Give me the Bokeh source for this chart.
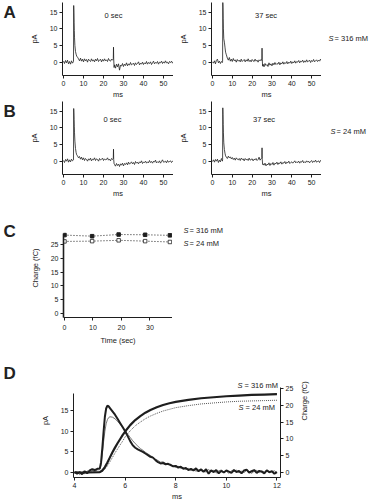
import math
from bokeh.plotting import figure
from bokeh.layouts import column, row
from bokeh.models import Range1d, LinearAxis, Label, FixedTicker
from bokeh.embed import file_html
from bokeh.resources import INLINE

FONT = "Liberation Sans"
INK = "#1e1e1e"
TXT = "#222222"

# ---------------- data: panels A/B (current traces, pA vs ms) ----------------
t_ms = [0, 0.5, 1, 1.5, 2, 2.5, 3, 3.5, 4, 4.5,
        4.9, 5.0, 5.1, 5.2, 5.3, 5.4, 5.5, 5.7, 6.0, 6.3,
        6.6, 7.0, 7.5, 8.0, 8.5, 9.0, 9.5, 10.0, 10.5, 11.0,
        11.5, 12, 12.5, 13, 13.5, 14, 14.5, 15, 15.5, 16,
        16.5, 17, 17.5, 18, 18.5, 19, 19.5, 20, 20.5, 21,
        21.5, 22, 22.5, 23, 23.5, 24, 24.5, 24.9, 25.0, 25.1,
        25.3, 25.5, 26, 26.5, 27, 27.5, 28, 28.5, 29, 29.5,
        30, 30.5, 31, 31.5, 32, 32.5, 33, 33.5, 34, 34.5,
        35, 35.5, 36, 36.5, 37, 37.5, 38, 38.5, 39, 39.5,
        40, 40.5, 41, 41.5, 42, 42.5, 43, 43.5, 44, 44.5,
        45, 45.5, 46, 46.5, 47, 47.5, 48, 48.5, 49, 49.5,
        50, 50.5, 51, 51.5, 52, 52.5, 53, 53.5, 54, 54.5,
        55]

# S = 316 mM, 0 sec
a_0sec = [0.3, -0.4, 0.5, -0.2, 0.6, -0.5, 0.2, -0.6, 0.4, -0.3,
          0.1, 0.2, 17.0, 15.0, 12.0, 9.5, 7.5, 5.0, 3.2, 2.4,
          1.8, 1.5, 1.0, 0.4, 1.2, 0.3, 0.9, 0.1, 1.0, 0.4,
          0.8, 0.0, 0.9, 0.5, 0.2, 1.0, 0.3, 0.7, 0.1, 0.9,
          0.4, 1.1, 0.2, 0.6, 0.9, 0.1, 0.8, 0.3, 1.0, 0.4,
          0.7, 0.2, 1.1, 0.5, 0.3, 0.9, 0.6, 1.0, 4.5, 1.0,
          -1.6, -0.8, -1.8, -0.6, -1.4, -0.5, -2.4, -0.9, -1.2, -0.4,
          -1.3, -0.6, -1.0, -0.2, -1.1, -0.5, -0.9, -0.1, -0.8, -0.6,
          -0.3, -1.0, -0.2, -0.7, -0.4, 0.1, -0.8, -0.3, -0.6, 0.0,
          -0.7, -0.2, -0.5, 0.2, -0.6, -0.1, -0.4, 0.1, -0.7, -0.2,
          0.3, -0.5, -0.1, -0.3, 0.2, -0.6, 0.0, -0.2, 0.3, -0.4,
          0.1, -0.3, 0.4, -0.2, 0.0, -0.5, 0.2, -0.1, 0.3, -0.3,
          0.1]

# S = 316 mM, 37 sec
a_37sec = [0.1, -0.3, 0.4, -0.5, 0.6, 0.9, -0.2, 0.3, -0.4, 0.2,
           0.0, -0.1, 0.3, 18.0, 16.5, 13.0, 10.0, 7.0, 6.0, 4.5,
           3.0, 2.2, 1.2, 0.6, 1.4, 0.3, 0.9, 0.2, 1.1, 0.4,
           0.7, 0.0, 0.8, 0.3, 0.6, 0.1, 0.9, 0.2, 0.5, 0.8,
           0.1, 0.7, 0.3, 1.0, 0.2, 0.6, 0.1, 0.8, 0.4, 0.2,
           0.9, 0.3, 0.6, 0.0, 0.7, 0.4, 0.8, 0.5, 4.2, 0.8,
           -1.2, -0.6, -1.4, -0.4, -1.0, -0.7, -1.3, -0.2, -0.9, -0.5,
           -1.1, -0.3, -0.8, -0.1, -0.7, -0.4, -0.6, 0.0, -0.8, -0.2,
           -0.5, 0.1, -0.6, -0.1, -0.4, 0.2, -0.5, 0.0, -0.3, 0.3,
           -0.4, 0.1, -0.2, 0.4, -0.3, 0.2, 0.0, 0.5, -0.2, 0.3,
           0.1, 0.6, -0.1, 0.4, 0.0, 0.7, 0.1, 0.3, 0.6, -0.1,
           0.5, 0.2, 0.8, 0.1, 0.4, 0.7, 0.2, 0.6, 0.3, 0.9,
           0.4]

# S = 24 mM, 0 sec
b_0sec = [0.2, -0.4, 0.5, 0.0, 0.7, -0.3, 0.4, -0.2, 0.6, 0.1,
          0.3, 0.4, 15.8, 14.5, 12.5, 10.5, 8.5, 6.0, 3.8, 2.6,
          1.9, 1.6, 1.0, 1.4, 0.6, 1.2, 0.4, 1.0, 0.2, 0.8,
          0.5, 0.0, 0.7, 0.3, 0.9, 0.1, 0.6, 0.4, 1.0, 0.2,
          0.7, 0.5, 0.0, 0.8, 0.3, 0.6, 0.9, 0.2, 0.7, 0.4,
          0.5, 1.0, 0.3, 0.6, 0.1, 0.8, 0.5, 0.9, 3.6, 0.5,
          -0.8, -1.0, -1.5, -0.7, -1.3, -0.9, -1.6, -0.8, -1.2, -0.6,
          -1.4, -0.7, -1.0, -0.5, -1.1, -0.3, -0.9, -0.6, -0.2, -0.8,
          -0.4, -1.0, -0.1, -0.6, -0.3, -0.8, -0.2, -0.5, 0.1, -0.7,
          -0.3, -0.4, 0.0, -0.6, -0.2, -0.5, 0.2, -0.4, -0.1, -0.6,
          0.0, -0.3, 0.3, -0.5, -0.2, -0.4, 0.1, -0.6, -0.1, 0.4,
          -0.3, -0.2, 0.0, -0.5, 0.2, -0.3, -0.1, 0.1, -0.4, 0.0,
          -0.2]

# S = 24 mM, 37 sec
b_37sec = [-0.1, 0.4, -0.3, 0.5, 0.0, 0.6, -0.4, 0.3, -0.2, 0.8,
           0.2, 0.0, 0.5, 16.0, 14.0, 11.0, 8.5, 5.5, 3.5, 2.4,
           1.6, 1.2, 0.8, 1.5, 1.0, 1.3, 0.7, 1.1, 0.5, 0.9,
           0.3, 1.0, 0.6, 0.4, 0.8, 0.2, 0.9, 0.5, 0.7, 0.1,
           0.8, 0.4, 0.6, 0.2, 0.9, 0.3, 0.5, 0.7, 0.1, 0.6,
           0.4, 0.8, 0.2, 0.5, 1.2, 0.3, 0.7, 1.0, 4.0, 0.6,
           -1.0, -0.8, -1.2, -0.6, -1.4, -0.9, -1.1, -0.5, -1.3, -0.7,
           -1.0, -0.4, -1.2, -0.6, -0.8, -0.3, -1.0, -0.5, -0.7, -0.2,
           -0.9, -0.4, -0.6, -0.1, -0.8, -0.3, -0.5, 0.0, -0.7, -0.4,
           -0.2, -0.6, -0.3, 0.1, -0.5, -0.2, -0.4, 0.0, -0.6, -0.1,
           -0.3, 0.2, -0.5, -0.2, -0.4, 0.1, -0.3, 0.0, -0.5, -0.1,
           0.2, -0.4, 0.0, -0.2, 0.3, -0.3, -0.1, 0.1, -0.4, 0.2,
           0.0]

trace_ticks_x = [0, 10, 20, 30, 40, 50]
trace_ticks_y = [0, 5, 10, 15]

# ---------------- data: panel C (charge vs time) ----------------
c_time = [0, 9.7, 19, 28.3, 37]
c_q316 = [28.4, 28.0, 28.6, 28.5, 28.3]
c_q24 = [26.1, 26.2, 26.5, 26.2, 25.9]
c_ticks_x = [0, 10, 20, 30]
c_ticks_y = [0, 5, 10, 15, 20, 25]

# ---------------- data: panel D (expanded current + integrated charge) ----------------
d_t = [4.0, 4.1, 4.2, 4.3, 4.4, 4.5, 4.6, 4.7, 4.8, 4.9,
       5.0, 5.05, 5.1, 5.15, 5.2, 5.25, 5.3, 5.35, 5.4, 5.5,
       5.6, 5.7, 5.8, 5.9, 6.0, 6.1, 6.2, 6.3, 6.4, 6.5,
       6.6, 6.7, 6.8, 6.9, 7.0, 7.1, 7.2, 7.3, 7.4, 7.5,
       7.6, 7.7, 7.8, 7.9, 8.0, 8.1, 8.2, 8.3, 8.4, 8.5,
       8.6, 8.7, 8.8, 8.9, 9.0, 9.1, 9.2, 9.3, 9.4, 9.5,
       9.6, 9.7, 9.8, 9.9, 10.0, 10.1, 10.2, 10.3, 10.4, 10.5,
       10.6, 10.7, 10.8, 10.9, 11.0, 11.1, 11.2, 11.3, 11.4, 11.5,
       11.6, 11.7, 11.8, 11.9, 12.0]
d_i316 = [0.2, -0.3, 0.1, -0.4, 0.3, -0.2, 0.5, 0.8, 0.6, 0.9,
          1.0, 2.5, 6.0, 10.0, 13.5, 15.5, 16.2, 16.0, 15.6, 14.8,
          14.0, 13.0, 12.0, 11.0, 10.0, 8.8, 7.6, 6.6, 6.0, 5.6,
          5.3, 5.0, 4.6, 4.2, 3.8, 3.6, 3.0, 2.5, 2.2, 2.3,
          2.0, 2.1, 1.8, 1.5, 1.6, 1.2, 1.4, 0.9, 1.1, 0.6,
          0.9, 0.5, 1.0, 0.3, 0.7, 0.2, 0.8, -0.3, 0.5, 0.1,
          0.6, -0.2, 0.4, 0.0, 0.5, 0.2, -0.1, 0.6, 0.1, 0.4,
          -0.2, 0.5, 0.7, 0.0, 0.3, 0.6, -0.1, 0.4, 0.2, -0.2,
          0.5, 0.1, 0.3, -0.3, 0.1]
d_i24 = [-0.2, 0.3, -0.5, 0.1, -0.3, 0.4, 0.0, 0.5, 0.3, 0.6,
         0.7, 1.8, 4.5, 7.5, 10.0, 11.8, 12.8, 13.3, 13.5, 13.4,
         13.0, 12.4, 11.7, 11.0, 10.2, 9.3, 8.5, 7.7, 7.0, 6.4,
         5.8, 5.4, 4.9, 4.5, 4.1, 3.7, 3.2, 2.9, 2.5, 2.6,
         2.2, 1.9, 2.0, 1.6, 1.3, 1.5, 1.0, 1.2, 0.7, 1.0,
         0.5, 0.8, 0.3, 0.6, 0.9, 0.4, 0.1, 0.7, 0.2, 0.5,
         -0.1, 0.4, 0.6, 0.1, 0.3, -0.2, 0.4, 0.2, 0.6, -0.1,
         0.3, 0.0, 0.5, 0.2, -0.2, 0.3, 0.5, 0.0, 0.4, 0.1,
         0.6, -0.1, 0.2, 0.4, 0.0]
d_tq = [4.0, 4.5, 5.0, 5.1, 5.2, 5.3, 5.4, 5.5, 5.6, 5.7,
        5.8, 5.9, 6.0, 6.2, 6.4, 6.6, 6.8, 7.0, 7.25, 7.5,
        7.75, 8.0, 8.5, 9.0, 9.5, 10.0, 10.5, 11.0, 11.5, 12.0]
d_q316 = [0.0, 0.0, 0.1, 0.6, 1.6, 3.0, 4.5, 6.0, 7.4, 8.7,
          9.9, 11.1, 12.2, 14.1, 15.6, 16.8, 17.8, 18.6, 19.4, 20.1,
          20.6, 21.0, 21.6, 22.1, 22.4, 22.7, 22.9, 23.1, 23.2, 23.3]
d_q24 = [0.0, 0.0, 0.0, 0.3, 1.0, 2.0, 3.2, 4.5, 5.8, 7.0,
         8.2, 9.3, 10.6, 12.4, 13.9, 15.0, 16.0, 16.8, 17.6, 18.3,
         18.8, 19.3, 19.9, 20.4, 20.7, 21.0, 21.2, 21.3, 21.4, 21.5]
d_ticks_x = [4, 6, 8, 10, 12]
d_ticks_y = [0, 5, 10, 15]
d_ticks_q = [0, 5, 10, 15, 20, 25]

# vertical ranges shared by each plot and the text strips beside it
TRACE_Y = (-4.0, 17.9)
C_Y = (-1.45, 34.4)
D_Y = (-1.21, 26.4)
D_Q = (-1.49, 32.44)


def style_axes(p, ylabel_standoff=8):
    p.outline_line_color = None
    p.xgrid.visible = False
    p.ygrid.visible = False
    p.background_fill_color = "white"
    p.border_fill_color = "white"
    for ax in p.axis:
        ax.axis_line_color = INK
        ax.axis_line_width = 1
        ax.major_tick_line_color = INK
        ax.major_tick_out = 3
        ax.major_tick_in = 0
        ax.minor_tick_line_color = None
        ax.major_label_text_font = FONT
        ax.major_label_text_font_size = "7px"
        ax.major_label_text_color = TXT
        ax.major_label_standoff = 2
        ax.axis_label_text_font = FONT
        ax.axis_label_text_font_size = "7.5px"
        ax.axis_label_text_font_style = "normal"
        ax.axis_label_text_color = TXT
    for ax in p.xaxis:
        ax.axis_label_standoff = 1
    for ax in p.yaxis:
        ax.axis_label_standoff = ylabel_standoff


def add_text(p, x, y, text, align="left", baseline="middle", size="7.5px",
             style="normal", x_offset=0, y_range_name="default"):
    p.add_layout(Label(x=x, y=y, text=text, text_align=align, text_baseline=baseline,
                       text_font=FONT, text_font_size=size, text_font_style=style,
                       text_color=TXT, x_offset=x_offset, y_range_name=y_range_name))


def blank_fig(width, yr, top, frame_h, bottom):
    # axis-less strip whose frame lines up with the neighbouring plot's frame
    p = figure(frame_width=width, frame_height=frame_h, title=None, output_backend="svg",
               toolbar_location=None, x_range=Range1d(0, width), y_range=Range1d(*yr),
               x_axis_type=None, y_axis_type=None,
               min_border_left=0, min_border_right=0, min_border_top=top, min_border_bottom=bottom)
    p.outline_line_color = None
    p.xgrid.visible = False
    p.ygrid.visible = False
    return p


def letter_fig(letter, yr, top, frame_h, bottom, y):
    p = blank_fig(20, yr, top, frame_h, bottom)
    add_text(p, 3, y, letter, baseline="top", size="17px", style="bold")
    return p


def side_fig(width, yr, top, frame_h, bottom, items):
    p = blank_fig(width, yr, top, frame_h, bottom)
    for (x, y, rest) in items:
        add_text(p, x, y, "S", style="italic")
        add_text(p, x, y, rest, x_offset=6)
    return p


def trace_fig(y, left, frame_w, top, caption, cap_x, cap_y):
    p = figure(frame_width=frame_w, frame_height=73, title=None, output_backend="svg",
               toolbar_location=None,
               x_range=Range1d(-0.5, 55), y_range=Range1d(*TRACE_Y),
               min_border_left=left, min_border_right=0, min_border_top=top, min_border_bottom=26)
    p.line(t_ms, y, line_color=INK, line_width=0.8)
    p.xaxis.ticker = FixedTicker(ticks=trace_ticks_x)
    p.yaxis.ticker = FixedTicker(ticks=trace_ticks_y)
    p.xaxis.axis_label = "ms"
    p.yaxis.axis_label = "pA"
    style_axes(p)
    add_text(p, cap_x, cap_y, caption, align="center")
    return p


# row widths: 20 + (42+111) + (38+110) + 55 = 376
pA0 = trace_fig(a_0sec, 42, 111, 2, "0 sec", 25, 14)
pA1 = trace_fig(a_37sec, 38, 110, 2, "37 sec", 27, 14)
pB0 = trace_fig(b_0sec, 42, 111, 0, "0 sec", 24.5, 12.6)
pB1 = trace_fig(b_37sec, 38, 110, 0, "37 sec", 26, 12.6)

# ---------------- panel C ----------------
pC = figure(frame_width=109, frame_height=99, title=None, output_backend="svg", toolbar_location=None,
            x_range=Range1d(-0.35, 37.9), y_range=Range1d(*C_Y),
            min_border_left=43, min_border_right=0, min_border_top=18, min_border_bottom=26)
pC.line(c_time, c_q316, line_color=INK, line_width=1, line_dash="1 2")
pC.line(c_time, c_q24, line_color=INK, line_width=1, line_dash="1 2")
pC.scatter(c_time, c_q316, marker="square", size=3.5, fill_color=INK, line_color=INK)
pC.scatter(c_time, c_q24, marker="square", size=3.5, fill_color="white", line_color=INK, line_width=0.8)
pC.xaxis.ticker = FixedTicker(ticks=c_ticks_x)
pC.yaxis.ticker = FixedTicker(ticks=c_ticks_y)
pC.xaxis.axis_label = "Time (sec)"
pC.yaxis.axis_label = "Charge (fC)"
pC.yaxis.bounds = (-1.45, 29.0)
style_axes(pC)
pC.xaxis.major_label_standoff = 4
pC.xaxis.axis_label_standoff = 3
pC.yaxis.axis_line_width = 1.6

# ---------------- panel D ----------------
pD = figure(frame_width=207, frame_height=114, title=None, output_backend="svg", toolbar_location=None,
            x_range=Range1d(3.96, 12.14), y_range=Range1d(*D_Y),
            min_border_left=53, min_border_right=96, min_border_top=16, min_border_bottom=26)
pD.extra_y_ranges = {"q": Range1d(*D_Q)}
pD.line(d_t, d_i24, line_color="#555555", line_width=0.8)
pD.line(d_t, d_i316, line_color=INK, line_width=2)
pD.line(d_tq, d_q24, line_color="#444444", line_width=0.9, line_dash="1 1", y_range_name="q")
pD.line(d_tq, d_q316, line_color=INK, line_width=2.2, y_range_name="q")
pD.xaxis.ticker = FixedTicker(ticks=d_ticks_x)
pD.yaxis.ticker = FixedTicker(ticks=d_ticks_y)
pD.xaxis.axis_label = "ms"
pD.yaxis.axis_label = "pA"
pD.yaxis.bounds = (-1.21, 19.1)
qax = LinearAxis(y_range_name="q", axis_label="Charge (fC)", ticker=FixedTicker(ticks=d_ticks_q),
                 bounds=(-1.49, 25.3))
pD.add_layout(qax, "right")
style_axes(pD)
qax.axis_label_orientation = math.pi / 2
add_text(pD, 10.44, 21.1, "S", style="italic")
add_text(pD, 10.44, 21.1, "= 316 mM", x_offset=7)
add_text(pD, 10.48, 15.7, "S", style="italic")
add_text(pD, 10.48, 15.7, "= 24 mM", x_offset=7)

layout = column(
    row(letter_fig("A", TRACE_Y, 2, 73, 26, 17.9), pA0, pA1,
        side_fig(55, TRACE_Y, 2, 73, 26, [(7, 7.1, "= 316 mM")])),
    row(letter_fig("B", TRACE_Y, 0, 73, 26, 17.9), pB0, pB1,
        side_fig(55, TRACE_Y, 0, 73, 26, [(9, 8.9, "= 24 mM")])),
    row(letter_fig("C", C_Y, 18, 99, 26, 33.0), pC,
        side_fig(204, C_Y, 18, 99, 26, [(11, 30.05, "= 316 mM"), (11, 25.2, "= 24 mM")])),
    row(letter_fig("D", D_Y, 16, 114, 26, 26.2), pD),
)

open("out.html", "w").write(file_html(layout, INLINE))
